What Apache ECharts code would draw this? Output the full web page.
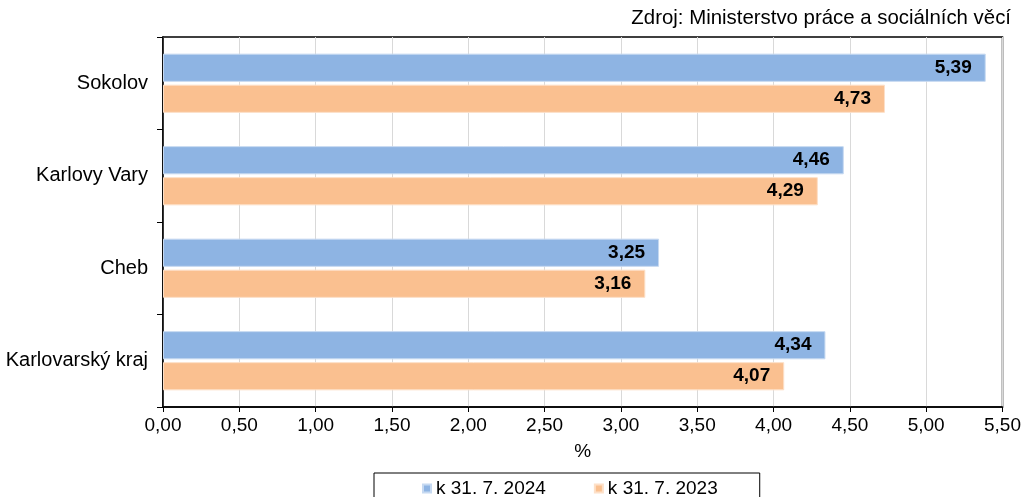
<!DOCTYPE html>
<html><head><meta charset="utf-8">
<script src="https://cdn.jsdelivr.net/npm/echarts@6/dist/echarts.min.js"></script>
<style>html,body{margin:0;padding:0;background:#fff}#c{width:1024px;height:497px}</style>
</head><body><div id="c"></div>
<script>
const categories = ['Sokolov', 'Karlovy Vary', 'Cheb', 'Karlovarský kraj'];
const series2024 = [5.39, 4.46, 3.25, 4.34];
const series2023 = [4.73, 4.29, 3.16, 4.07];
const seriesNames = ['k 31. 7. 2024', 'k 31. 7. 2023'];
const xTicks = { min: 0, max: 5.5, interval: 0.5 };
const fmt = v => Number(v).toFixed(2).replace('.', ',');
const F = 'Liberation Sans, Arial, sans-serif';
const chart = echarts.init(document.getElementById('c'));
const lbl = { show: true, position: 'insideRight', distance: 14, color: '#000', fontWeight: 'bold', fontSize: 19, fontFamily: F, formatter: p => fmt(p.value) };
chart.setOption({
  animation: false,
  textStyle: { fontFamily: F },
  graphic: [{ type: 'text', right: 13, top: 8, style: { text: 'Zdroj: Ministerstvo práce a sociálních věcí', fontSize: 20.4, fontFamily: F, fill: '#000' } }],
  grid: { left: 163, right: 21, top: 37, bottom: 90, show: true, borderColor: '#000', borderWidth: 1.5, containLabel: false },
  legend: {
    top: 473, left: 374, itemWidth: 8, itemHeight: 8, icon: 'rect', itemGap: 48,
    borderColor: '#000', borderWidth: 1, padding: [6, 42, 14, 48],
    textStyle: { fontSize: 19, fontFamily: F, color: '#000' },
    data: seriesNames
  },
  xAxis: {
    type: 'value', min: xTicks.min, max: xTicks.max, interval: xTicks.interval,
    name: '%', nameLocation: 'middle', nameGap: 35, nameTextStyle: { fontSize: 19, color: '#000', fontFamily: F },
    axisLine: { show: true, lineStyle: { color: '#000', width: 1.5 } },
    axisTick: { show: true, length: 5, lineStyle: { color: '#000' } },
    axisLabel: { fontSize: 19, color: '#000', margin: 9, formatter: v => fmt(v) },
    splitLine: { show: true, lineStyle: { color: '#d9d9d9' } }
  },
  yAxis: {
    type: 'category', data: categories, inverse: true,
    axisLine: { show: true, lineStyle: { color: '#000', width: 1.5 } },
    axisTick: { show: true, length: 6, lineStyle: { color: '#000' } },
    axisLabel: { fontSize: 20, color: '#000', margin: 15 }
  },
  series: [
    { name: seriesNames[0], type: 'bar', data: series2024, barGap: '10%', barCategoryGap: '36%',
      itemStyle: { color: '#8EB4E3', borderColor: '#c6d9f1', borderWidth: 1 }, label: lbl },
    { name: seriesNames[1], type: 'bar', data: series2023,
      itemStyle: { color: '#FAC090', borderColor: '#fde0c8', borderWidth: 1 }, label: lbl }
  ]
});
</script></body></html>
